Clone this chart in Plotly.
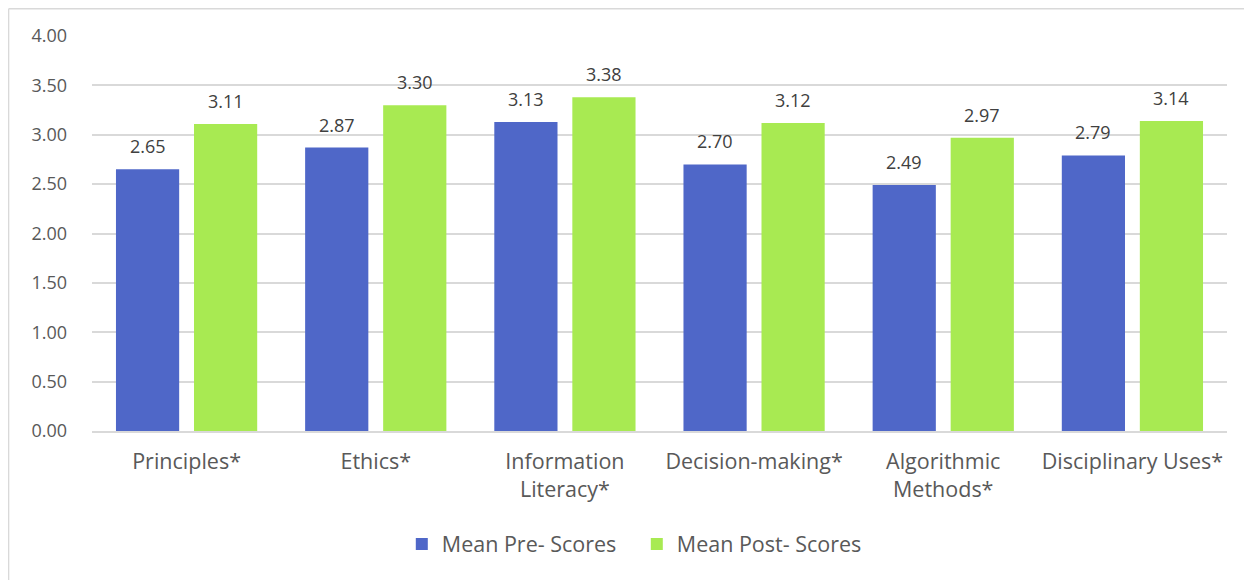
import plotly.graph_objects as go

categories = ["Principles*", "Ethics*", "Information<br>Literacy*", "Decision-making*", "Algorithmic<br>Methods*", "Disciplinary Uses*"]
pre_scores = [2.65, 2.87, 3.13, 2.70, 2.49, 2.79]
post_scores = [3.11, 3.30, 3.38, 3.12, 2.97, 3.14]
tick_vals = [0, 0.5, 1.0, 1.5, 2.0, 2.5, 3.0, 3.5, 4.0]

FONT = "Open Sans"
PRE_COLOR = "#4F67C8"
POST_COLOR = "#A8EA52"

fig = go.Figure()
fig.add_trace(go.Bar(x=categories, y=pre_scores, name="Mean Pre- Scores",
                     marker=dict(color=PRE_COLOR, line=dict(width=0))))
fig.add_trace(go.Bar(x=categories, y=post_scores, name="Mean Post- Scores",
                     marker=dict(color=POST_COLOR, line=dict(width=0))))

annotations = []
for series, shift in ((pre_scores, -39), (post_scores, 39)):
    for cat, v in zip(categories, series):
        annotations.append(dict(x=cat, y=v, xref="x", yref="y", text=f"{v:.2f}",
                                showarrow=False, xshift=shift, yshift=23,
                                yanchor="middle", xanchor="center",
                                font=dict(family=FONT, size=18, color="#404040")))

fig.update_layout(
    width=1252, height=580,
    margin=dict(l=84, r=33, t=28, b=157),
    paper_bgcolor="white", plot_bgcolor="white",
    barmode="group", bargap=0.175, bargroupgap=0.19,
    font=dict(family=FONT, color="#595959"),
    showlegend=True,
    legend=dict(orientation="h", x=0.48, xanchor="center", y=-0.286, yanchor="middle",
                font=dict(family=FONT, size=21.5, color="#595959"), traceorder="normal",
                entrywidth=190, itemwidth=30),
    xaxis=dict(showgrid=False, showline=True, linecolor="#D9D9D9", linewidth=1.5,
               tickfont=dict(family=FONT, size=21.5, color="#595959"), ticks="",
               ticklabelstandoff=10),
    yaxis=dict(range=[0, 4.0], tickvals=tick_vals, tickformat=".2f",
               showgrid=True, gridcolor="#D9D9D9", gridwidth=1.5, zeroline=False,
               showline=False, ticks="", ticklabelstandoff=24,
               tickfont=dict(family=FONT, size=18, color="#595959")),
    annotations=annotations,
    shapes=[
        dict(type="line", xref="paper", yref="paper", x0=-0.0735, x1=1.03, y0=1.069, y1=1.069,
             line=dict(color="#D9D9D9", width=1.5)),
        dict(type="line", xref="paper", yref="paper", x0=-0.0735, x1=-0.0735, y0=1.069, y1=-0.4,
             line=dict(color="#D9D9D9", width=1.5)),
    ],
)

fig.write_html("out.html")
